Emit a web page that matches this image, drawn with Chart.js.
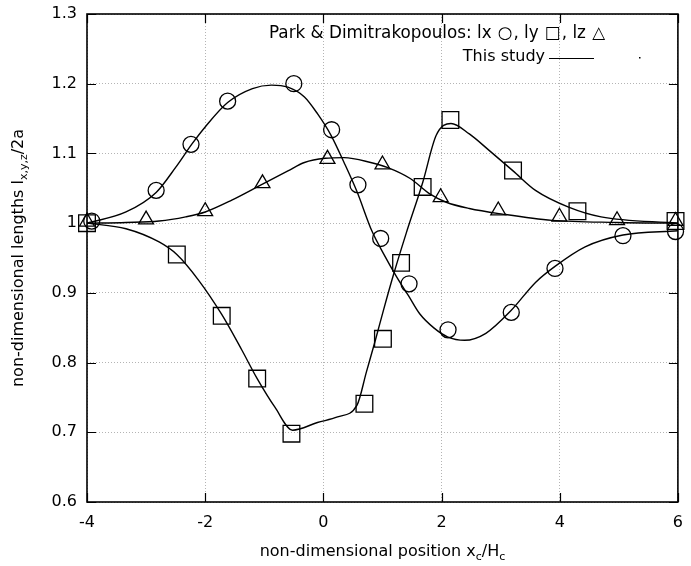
<!DOCTYPE html>
<html>
<head>
<meta charset="utf-8">
<script src="https://cdn.jsdelivr.net/npm/chart.js@4/dist/chart.umd.min.js"></script>
<style>
  html, body { margin: 0; padding: 0; background: #fff; overflow: hidden; }
  #wrap { width: 691px; height: 566px; overflow: hidden; }
  #c { display: block; }
</style>
</head>
<body>
<div id="wrap"><canvas id="c" width="691" height="566"></canvas></div>
<script>
// Measured data (Park & Dimitrakopoulos): l_x, l_y, l_z against x_c/H_c
const lxPosX = [-3.92, -2.83, -2.24, -1.62, -0.50, 0.14, 0.585, 0.97, 1.45, 2.11, 3.18, 3.92, 5.07, 5.96];
const lxPosY = [1.003, 1.047, 1.113, 1.175, 1.200, 1.134, 1.055, 0.978, 0.913, 0.847, 0.872, 0.935, 0.982, 0.988];

const lyPosX = [-4.0, -2.48, -1.72, -1.12, -0.54, 0.695, 1.008, 1.315, 1.68, 2.15, 3.21, 4.30, 5.96];
const lyPosY = [1.000, 0.955, 0.867, 0.777, 0.698, 0.741, 0.834, 0.943, 1.052, 1.148, 1.0755, 1.017, 1.003];

const lzPosX = [-4.0, -3.0, -2.0, -1.03, 0.07, 1.0, 1.985, 2.96, 3.995, 4.97, 5.96];
const lzPosY = [1.002, 1.005, 1.017, 1.057, 1.092, 1.084, 1.037, 1.018, 1.009, 1.004, 1.003];

// Computed profiles (this study)
const lxCurveX = [-4.0, -3.34, -2.83, -2.5, -2.22, -2.0, -1.62, -1.2, -0.88, -0.6, -0.32, -0.1, 0.13, 0.35, 0.57, 0.82, 1.02, 1.24, 1.44, 1.63, 1.88, 2.1, 2.39, 2.75, 3.18, 3.59, 3.92, 4.43, 5.07, 6.0];
const lxCurveY = [1.000, 1.016, 1.044, 1.080, 1.114, 1.138, 1.173, 1.193, 1.198, 1.195, 1.181, 1.157, 1.126, 1.087, 1.045, 0.989, 0.956, 0.923, 0.896, 0.870, 0.849, 0.837, 0.832, 0.842, 0.875, 0.915, 0.938, 0.966, 0.983, 0.989];

const lyCurveX = [-4.0, -3.34, -2.78, -2.48, -2.11, -1.72, -1.38, -1.12, -0.82, -0.52, -0.1, 0.24, 0.57, 0.73, 0.88, 1.02, 1.19, 1.4, 1.68, 1.91, 2.16, 2.47, 2.81, 3.21, 3.59, 4.15, 4.7, 6.0];
const lyCurveY = [1.000, 0.992, 0.973, 0.955, 0.918, 0.869, 0.818, 0.777, 0.736, 0.703, 0.714, 0.722, 0.739, 0.787, 0.832, 0.876, 0.927, 0.985, 1.058, 1.126, 1.143, 1.128, 1.104, 1.075, 1.047, 1.023, 1.009, 1.000];

const lzCurveX = [-4.0, -3.34, -2.78, -2.33, -2.0, -1.55, -1.03, -0.6, -0.32, 0.03, 0.35, 0.8, 1.08, 1.47, 1.8, 2.08, 2.47, 3.03, 3.87, 4.97, 6.0];
const lzCurveY = [1.000, 1.001, 1.003, 1.009, 1.016, 1.033, 1.056, 1.075, 1.087, 1.093, 1.094, 1.087, 1.080, 1.064, 1.042, 1.030, 1.021, 1.013, 1.004, 1.001, 1.000];

// Axis ticks
const xTicks = [-4, -2, 0, 2, 4, 6];
const yTicks = [0.6, 0.7, 0.8, 0.9, 1.0, 1.1, 1.2, 1.3];

const FONT = '"DejaVu Sans", sans-serif';
const NO_PAD = () => ({ left: 0, right: 0, top: 0, bottom: 0 });

function pairs(xs, ys) { return xs.map((x, i) => ({ x: x, y: ys[i] })); }

function markerSet(xs, ys, style, radius) {
  return {
    data: pairs(xs, ys),
    showLine: false,
    pointStyle: style,
    pointRadius: radius,
    pointHoverRadius: radius,
    pointBackgroundColor: 'rgba(0,0,0,0)',
    pointBorderColor: '#000',
    pointBorderWidth: 1.3,
    clip: false
  };
}

function curveSet(xs, ys) {
  return {
    data: pairs(xs, ys),
    showLine: true,
    pointRadius: 0,
    borderColor: '#000',
    borderWidth: 1.4,
    cubicInterpolationMode: 'monotone',
    fill: false,
    clip: false
  };
}

// Text with subscript runs, e.g. [['x',false],['c',true]]
function drawRuns(ctx, runs, cx, cy) {
  const big = '16px ' + FONT, small = '11px ' + FONT;
  let total = 0;
  runs.forEach(r => { ctx.font = r[1] ? small : big; total += ctx.measureText(r[0]).width; });
  let x = cx - total / 2;
  ctx.textAlign = 'left';
  ctx.textBaseline = 'middle';
  runs.forEach(r => {
    ctx.font = r[1] ? small : big;
    ctx.fillText(r[0], x, r[1] ? cy + 5 : cy);
    x += ctx.measureText(r[0]).width;
  });
}

// Key line spanning [left, right]: the symbol glyphs get equal side padding to fill the span
function drawKeyLine(ctx, pieces, left, right, y) {
  ctx.font = '16.8px ' + FONT;
  ctx.textAlign = 'left';
  ctx.textBaseline = 'middle';
  const base = pieces.map(p => ctx.measureText(p[0]).width);
  const nSym = pieces.filter(p => p[1]).length;
  const used = base.reduce((s, w) => s + w, 0);
  const pad = Math.max(0, (right - left - used) / (2 * nSym));
  let x = left;
  pieces.forEach((p, i) => {
    if (p[1]) x += pad;
    ctx.fillText(p[0], x, y);
    x += base[i] + (p[1] ? pad : 0);
  });
}

const framePlugin = {
  id: 'frame',
  afterDraw(chart) {
    const ctx = chart.ctx, a = chart.chartArea;
    const xs = chart.scales.x, ys = chart.scales.y;
    ctx.save();
    ctx.strokeStyle = '#000';
    ctx.fillStyle = '#000';
    // inward ticks on all four sides
    ctx.lineWidth = 1.2;
    const tl = 9;
    ctx.beginPath();
    xTicks.forEach(v => {
      const p = Math.round(xs.getPixelForValue(v)) + 0.5;
      ctx.moveTo(p, a.bottom); ctx.lineTo(p, a.bottom - tl);
      ctx.moveTo(p, a.top); ctx.lineTo(p, a.top + tl);
    });
    yTicks.forEach(v => {
      const p = Math.round(ys.getPixelForValue(v)) + 0.5;
      ctx.moveTo(a.left, p); ctx.lineTo(a.left + tl, p);
      ctx.moveTo(a.right, p); ctx.lineTo(a.right - tl, p);
    });
    ctx.stroke();
    // plot frame
    ctx.lineWidth = 1.6;
    ctx.strokeRect(a.left, a.top, a.right - a.left, a.bottom - a.top);

    // axis titles
    drawRuns(ctx, [['non-dimensional position x', false], ['c', true], ['/H', false], ['c', true]],
      (a.left + a.right) / 2, 552);
    ctx.save();
    ctx.translate(19, (a.top + a.bottom) / 2);
    ctx.rotate(-Math.PI / 2);
    drawRuns(ctx, [['non-dimensional lengths l', false], ['x,y,z', true], ['/2a', false]], 0, 0);
    ctx.restore();

    // key
    drawKeyLine(ctx, [
      ['Park & Dimitrakopoulos: lx ', false], ['\u25CB', true], [', ly ', false],
      ['\u25A1', true], [', lz ', false], ['\u25B3', true]
    ], 269, 606, 34);
    ctx.font = '16px ' + FONT;
    ctx.textAlign = 'right';
    ctx.textBaseline = 'middle';
    ctx.fillText('This study', 545, 57);
    ctx.lineWidth = 1.2;
    ctx.beginPath();
    ctx.moveTo(549, 58.5); ctx.lineTo(594, 58.5);
    ctx.stroke();
    ctx.fillRect(639, 57, 1.5, 1.5);
    ctx.restore();
  }
};

new Chart(document.getElementById('c'), {
  type: 'scatter',
  data: {
    datasets: [
      curveSet(lxCurveX, lxCurveY),
      curveSet(lyCurveX, lyCurveY),
      curveSet(lzCurveX, lzCurveY),
      markerSet(lxPosX, lxPosY, 'circle', 8),
      markerSet(lyPosX, lyPosY, 'rect', 11.8),
      markerSet(lzPosX, lzPosY, 'triangle', 8.6)
    ]
  },
  options: {
    responsive: false,
    animation: false,
    devicePixelRatio: 1,
    layout: { padding: { left: 0, right: 7, top: 14, bottom: 0 } },
    plugins: { legend: { display: false }, tooltip: { enabled: false } },
    events: [],
    scales: {
      x: {
        type: 'linear',
        min: -4, max: 6,
        afterBuildTicks: s => { s.ticks = xTicks.map(v => ({ value: v })); },
        afterFit: s => { s.height = 64; s.paddingLeft = 0; s.paddingRight = 0; s.getPadding = NO_PAD; },
        ticks: {
          color: '#000', padding: 11, maxRotation: 0,
          font: { family: FONT, size: 16 },
          callback: v => String(v)
        },
        grid: { color: '#b4b4b4', lineWidth: 1, drawTicks: false },
        border: { display: false, dash: [1, 2] }
      },
      y: {
        type: 'linear',
        min: 0.6, max: 1.3,
        afterBuildTicks: s => { s.ticks = yTicks.map(v => ({ value: v })); },
        afterFit: s => { s.width = 87; s.paddingTop = 0; s.paddingBottom = 0; s.getPadding = NO_PAD; },
        ticks: {
          color: '#000', padding: 10,
          font: { family: FONT, size: 16 },
          callback: v => String(+v.toFixed(1))
        },
        grid: { color: '#b4b4b4', lineWidth: 1, drawTicks: false },
        border: { display: false, dash: [1, 2] }
      }
    }
  },
  plugins: [framePlugin]
});
</script>
</body>
</html>
